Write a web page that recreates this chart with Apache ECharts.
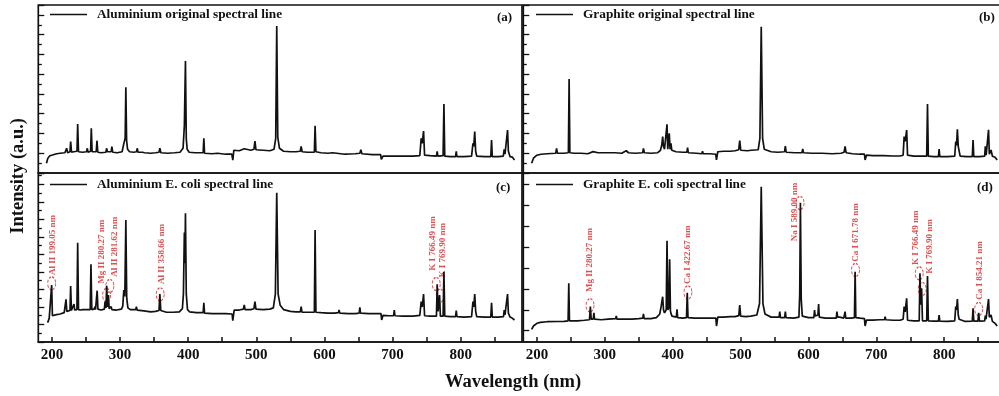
<!DOCTYPE html>
<html><head><meta charset="utf-8">
<script src="https://cdn.jsdelivr.net/npm/echarts@6/dist/echarts.min.js"></script>
<style>html,body{margin:0;padding:0;background:#fff;overflow:hidden}#c{width:1012px;height:396px}</style>
</head><body><div id="c"></div>
<script>
// ---------- data ----------
const wavelengthTicks = [200, 300, 400, 500, 600, 700, 800];
const wavelengthMinorTicks = [250, 350, 450, 550, 650, 750, 850];

const seriesNames = [
  'Aluminium original spectral line',
  'Graphite original spectral line',
  'Aluminium E. coli spectral line',
  'Graphite E. coli spectral line'
];
const panelTags = ['(a)', '(b)', '(c)', '(d)'];

// [wavelength nm, intensity a.u.]
const aluminiumOriginal = [[192,980],[194,1500],[197,1750],[202,1850],[207,1950],[212,2000],[219,2050],[221.6,2500],[223,2050],[226.5,2150],[227.5,3170],[228.8,2100],[232,2150],[236.8,2200],[237.8,4960],[239,2150],[245,2100],[250.8,2150],[251.9,2500],[253,2100],[256.8,2200],[257.8,4520],[259,2150],[265,2150],[266.1,3270],[267.3,2100],[272,2050],[279.2,2100],[280.2,2500],[281.5,2150],[287,2150],[288,2660],[289.2,2100],[296,2050],[303,2150],[305.6,3000],[307.5,3500],[308.5,8670],[309.6,3300],[311,2400],[314,2150],[320,2100],[324.2,2150],[325.2,2500],[326.4,2100],[333,2100],[334,2250],[336,2050],[345,2000],[352,2050],[357.2,2100],[358.4,2500],[360,2050],[370,2000],[380,2050],[388,2100],[392.5,2500],[394.4,4800],[395.2,5000],[396,11330],[397.2,3500],[398.5,2400],[400,2350],[401.5,2100],[410,2050],[422,2050],[423,3510],[424,2000],[435,1950],[443,2000],[444,2200],[445,1950],[455,1900],[464,1900],[465.5,1300],[466.5,1300],[467,2300],[475,2250],[482.3,2450],[484,2300],[492,2300],[496.5,2400],[498,3240],[499.5,2350],[510,2300],[520,2250],[526,2400],[528.5,3500],[530,14880],[531.5,3600],[534,2500],[540,2200],[550,2150],[558,2150],[564.5,2200],[565.8,2700],[567.3,2150],[575,2100],[585.2,2100],[586.3,4790],[587.5,2150],[595,2050],[605,2000],[612,2050],[613,2200],[614,2000],[630,1900],[645,1950],[652,2000],[653.5,2350],[655,1950],[670,1850],[682.5,1850],[683.5,1380],[685,1380],[686,1700],[700,1700],[715,1720],[730,1700],[740,1750],[742,3500],[743.5,3000],[745.5,4250],[747,1800],[755,1750],[764.5,1700],[765.5,2200],[766.5,1700],[774.2,1750],[775.4,6980],[776.6,1700],[785,1650],[792.5,1650],[793.5,2200],[794.5,1650],[805,1650],[816,1700],[818,3000],[819.2,2700],[820.6,4190],[822,2200],[823.5,1700],[835,1650],[844.2,1650],[845.3,3340],[846.4,1650],[855,1650],[862.5,1700],[863.9,2400],[865,1900],[867.7,1900],[868.8,4350],[870,2200],[871,2300],[872.5,1650],[876,1600],[879,1320]];

const graphiteOriginal = [[192.3,980],[195,1500],[200,1800],[206,1900],[215,1950],[227.8,2000],[229,2500],[230.2,2000],[240,2000],[246.4,2050],[247.5,9510],[248.6,2050],[255,2000],[265,2000],[275,1950],[282.8,2160],[290,2050],[300,2050],[315,2050],[325,2000],[331.6,2250],[335,2050],[345,2000],[355.8,2050],[357,2500],[358.3,2050],[368,2000],[378,2050],[382,2300],[384,2830],[385.3,3680],[386.5,2700],[388,2400],[390.6,2600],[391.7,4920],[392.8,2400],[394,2500],[395,4010],[396.2,2400],[397.5,3000],[398.7,2300],[405,2150],[415,2100],[421,2100],[422,2570],[423,2050],[435,2000],[443,1950],[444,2200],[445,1950],[455,1950],[463.5,1900],[464.5,1320],[465.5,1320],[466.5,2150],[475,2200],[485,2200],[492,2250],[497.3,2350],[498.8,3270],[500.3,2300],[510,2250],[516,2300],[517,2500],[518,2250],[526,2350],[528.5,3500],[530.5,14810],[532.5,3500],[535,2400],[545,2150],[555,2100],[564.8,2150],[566,2730],[567.2,2100],[580,2050],[590.5,2050],[591.6,2430],[592.8,2050],[605,2000],[620,2000],[635,1950],[648,2000],[652.5,2100],[654,2700],[655.5,2050],[665,1950],[675,1900],[682.5,1900],[683.5,1320],[684.5,1320],[685.5,1800],[695,1750],[710,1750],[725,1720],[735,1720],[739.5,1800],[741,3680],[742.5,3200],[744.7,4350],[746,1800],[755,1700],[765,1700],[774.2,1700],[775.4,6980],[776.6,1700],[785,1650],[791.5,1650],[792.5,2430],[793.5,1650],[805,1650],[815.5,1700],[817,3170],[818.2,2800],[819.4,4420],[820.7,2700],[822,2840],[823.5,1700],[833,1650],[841.4,1650],[842.5,3340],[843.6,1650],[852,1650],[859.6,1700],[860.6,2700],[861.8,1800],[864.2,1800],[865.3,4380],[866.5,1900],[869,2330],[871,1700],[875,1600],[878,1320]];

const aluminiumEcoli = [[193.7,2210],[196,2700],[198.5,2900],[199.6,6510],[200.7,3000],[205,3100],[212,3200],[218,3350],[219.7,3500],[220.7,4870],[221.8,3500],[224,3500],[226.5,3600],[227.5,6400],[228.6,3600],[231.4,3650],[232.4,4340],[233.4,3650],[236.7,3700],[237.8,11340],[239,3700],[242,3650],[245,3700],[246,3840],[247,3650],[251,3700],[252,3840],[253,3650],[256.2,3700],[257.3,8870],[258.5,3700],[262,3750],[263,4040],[264,3700],[265.3,3800],[266.4,5860],[267.5,3750],[272,3650],[277,3750],[278,4610],[279.3,3900],[280.4,6430],[281.6,4000],[282.9,5370],[284,3800],[286,3800],[287,4040],[288,3700],[295,3650],[302,3750],[304,4100],[305.5,5940],[307,5200],[308.5,13930],[309.8,5000],[311.5,3900],[315,3700],[323,3700],[324,4040],[325,3650],[335,3550],[345,3450],[352,3500],[357.2,3600],[358.4,5480],[359.8,3600],[368,3400],[378,3400],[387,3450],[391.5,3800],[393,5500],[394.4,12500],[395.2,9000],[396,14700],[397.2,5500],[399,3700],[402,3450],[412,3350],[422,3350],[423,4490],[424,3300],[435,3250],[445,3250],[455,3250],[464.5,3200],[465.5,2430],[466.5,2430],[467.5,3650],[475,3650],[481,3750],[482.3,4230],[483.5,3700],[492,3700],[496.5,3800],[498,4600],[499.5,3750],[510,3700],[520,3750],[525,3900],[528,5500],[530,17050],[532,5500],[535,4200],[540,3700],[550,3500],[558,3450],[564.6,3450],[565.8,4040],[567,3400],[575,3400],[585.2,3400],[586.3,12790],[587.5,3400],[595,3350],[605,3300],[615,3300],[620.5,3350],[621.5,3650],[622.5,3300],[635,3250],[645,3250],[651,3300],[652,3960],[653,3300],[665,3250],[676,3250],[683,3250],[684,2510],[685,2510],[686,3050],[695,3000],[701.5,3000],[702.5,3650],[703.5,3000],[715,2950],[730,2950],[740,3050],[742,4610],[743.5,4000],[745.5,5480],[747,3000],[755,2950],[764.4,2950],[765.5,6590],[766.8,3500],[769,5370],[770.2,2950],[774.2,2950],[775.4,8030],[776.6,2950],[785,2900],[792.5,2900],[793.5,3580],[794.5,2900],[805,2850],[816,2900],[818,4610],[819.2,4000],[820.6,5480],[822,3500],[823.5,2900],[835,2850],[844.2,2850],[845.3,4490],[846.4,2850],[855,2850],[862.8,2900],[863.9,3650],[865,3100],[867.7,3100],[868.8,5480],[870,3300],[872.5,2850],[876,2700],[879,2510]];

const graphiteEcoli = [[192.3,130],[195,450],[200,710],[205,800],[215,860],[230,880],[240,900],[246,950],[247,4530],[248,950],[260,950],[270,1000],[277.5,1050],[278.8,2300],[280,1100],[283,1100],[284,1720],[285,1100],[295,1050],[305,1100],[316,1150],[317,1410],[318,1100],[330,1100],[340,1100],[350,1150],[356,1200],[357,1600],[358,1150],[368,1150],[376,1250],[381,1600],[383,2300],[385.3,3250],[386.5,2000],[388,1700],[390.5,2000],[391.7,8610],[393,2000],[394.4,2200],[395.6,6830],[396.7,1900],[397.5,1660],[399,1400],[405.4,1300],[406.4,2050],[407.4,1250],[415,1200],[420.4,1250],[421.5,3640],[422.6,1250],[432,1200],[444,1200],[445,1190],[455,1200],[463.6,1200],[464.6,450],[465.6,450],[466.5,1300],[475,1300],[485,1340],[492,1350],[497.4,1450],[498.8,2460],[500.2,1400],[508,1350],[515,1400],[516,1500],[517,1400],[524,1500],[528,2600],[530.5,13780],[533,2600],[536,1600],[545,1300],[556.8,1300],[557.8,1820],[558.8,1250],[565,1250],[566,1820],[567,1250],[578,1200],[586,1300],[587.2,3500],[588.2,12250],[589.4,3000],[591,1400],[600,1250],[608,1250],[609,1980],[610,1400],[614,1500],[615,2560],[616,1300],[625,1200],[635,1200],[641,1200],[642,1820],[643,1300],[646,1300],[652,1200],[654,1820],[655,1200],[663,1200],[667.8,1250],[668.8,5650],[669.8,1250],[676,1200],[682.5,1150],[683.5,450],[684.5,450],[685.5,1020],[695,1020],[705,1050],[712,1050],[713,1340],[714,1050],[725,1000],[735,1000],[739.5,1100],[741,2300],[742.5,1800],[744.7,3100],[746,1000],[755,950],[763.2,950],[764.3,5490],[765.4,2500],[766.7,4060],[768,950],[774.2,950],[775.4,5230],[776.6,950],[785,920],[791.5,920],[792.5,1500],[793.5,920],[805,900],[815.5,950],[817,2300],[818.2,2000],[819.4,3030],[820.7,1500],[822,1100],[830,900],[841.4,920],[842.5,2140],[843.6,920],[849.7,920],[850.8,1720],[851.9,920],[859.6,950],[860.6,1440],[861.6,1100],[864.2,1100],[865.3,3030],[866.5,1300],[869,1500],[871,900],[875,700],[878,450]];

// annotated emission lines: label text and [wavelength, intensity] of the marked peak
const alEcoliLineNames = ['Al II 199.05 nm', 'Mg II 280.27 nm', 'Al II 281.62 nm', 'Al II 358.66 nm', 'K I 766.49 nm', 'K I 769.90 nm'];
const alEcoliLineMarks = [[199.6,6700],[280.2,5370],[285,6400],[358.9,5440],[764.1,6620],[770,5290]];
const grEcoliLineNames = ['Mg II 280.27 nm', 'Ca I 422.67 nm', 'Na I 589.00 nm', 'Ca I 671.78 nm', 'K I 766.49 nm', 'K I 769.90 nm', 'Ca I 854.21 nm'];
const grEcoliLineMarks = [[278.3,2430],[422.5,3670],[587.7,12220],[669.3,5810],[763.2,5490],[767.6,3990],[850.8,2080]];

// ---------- styling / layout ----------
const SERIF = "'Liberation Serif','Times New Roman',serif";
const INK = '#111111';
const RED = '#d02828';
const alLabelShift = [[1,0],[-5,-3],[5,-1],[1,-2],[-4,-5],[2,-10]];
const grLabelShift = [[0,-5],[0,0],[5,9],[0,0],[-4,0],[7,-7],[1,-1]];
const grLabelSide = [null, null, 'left', null, null, null, null];

function labelFor(shift, side) {
  const lab = {offset:[-shift[1], shift[0]]};
  if (side === 'left') { lab.position = 'left'; lab.align = 'center'; lab.verticalAlign = 'bottom'; }
  return lab;
}

const grids = [
  {left:38.3, top:5, width:483.7, height:168},
  {left:523.3, top:5, width:482, height:168},
  {left:38.3, top:173, width:483.7, height:169},
  {left:523.3, top:173, width:482, height:169}
].map(g => Object.assign(g, {show:true, borderColor:INK, borderWidth:1.7}));

const allWavelengthTicks = wavelengthTicks.concat(wavelengthMinorTicks).sort((a,b) => a - b);
function xTop(gi) {
  return {gridIndex:gi, type:'value', min:180, max:890,
    axisLine:{show:false, onZero:false}, splitLine:{show:false}, axisTick:{show:false}, axisLabel:{show:false}};
}
function xBottom(gi) {
  return {gridIndex:gi, type:'value', min:180, max:890,
    axisLine:{show:true, onZero:false, lineStyle:{color:INK, width:1.7}}, splitLine:{show:false},
    axisTick:{show:true, inside:true, length:5, customValues:allWavelengthTicks, lineStyle:{color:INK, width:1.5}},
    axisLabel:{show:true, customValues:wavelengthTicks, margin:6, color:INK, fontFamily:SERIF, fontWeight:'bold', fontSize:15}};
}
function yAxisStd(gi, max) {
  return {gridIndex:gi, type:'value', min:0, max:max, interval:2000,
    axisLine:{show:false, onZero:false}, splitLine:{show:false}, axisLabel:{show:false},
    axisTick:{show:true, inside:true, length:6, lineStyle:{color:INK, width:1.3}},
    minorTick:{show:true, splitNumber:2, length:3.5, lineStyle:{color:INK, width:1.3}}};
}
const dTicks = [0,2000,4000,6000,8000,10000,12000,14000];
const yAxisD = {gridIndex:3, type:'value', min:-1080, max:15090,
    axisLine:{show:false, onZero:false}, splitLine:{show:false}, axisLabel:{show:false},
    axisTick:{show:true, inside:true, length:6, customValues:dTicks, lineStyle:{color:INK, width:1.3}}};

function spectrum(name, data, xi, yi) {
  return {name, type:'line', data, xAxisIndex:xi, yAxisIndex:yi,
    showSymbol:false, symbol:'none', color:INK, lineStyle:{color:INK, width:1.7}};
}
function annotations(names, marks, shifts, sides, xi, yi) {
  return {type:'scatter', xAxisIndex:xi, yAxisIndex:yi, silent:true,
    symbol:'circle', symbolSize:[8,13],
    itemStyle:{color:'rgba(0,0,0,0)', borderColor:RED, borderWidth:1.2, borderType:[2.5,1.5]},
    label:{show:true, formatter:'{b}', rotate:90, position:'top', distance:1, align:'left', verticalAlign:'middle',
      color:RED, fontFamily:SERIF, fontSize:9, fontWeight:'bold'},
    data: names.map((n,i) => ({name:n, value:marks[i], label:labelFor(shifts[i], sides ? sides[i] : null)}))};
}
function legendAt(name, left, top) {
  return {data:[name], left, top, padding:0, itemWidth:37, itemHeight:1.6, icon:'rect', selectedMode:false,
    textStyle:{fontFamily:SERIF, fontWeight:'bold', fontSize:13.3, color:INK, padding:[3,0,0,5]}};
}
const tagPos = [[497,11],[979,11],[496,181],[977,181]];

const option = {
  animation:false,
  backgroundColor:'#fff',
  grid: grids,
  xAxis: [xTop(0), xTop(1), xBottom(2), xBottom(3)],
  yAxis: [yAxisStd(0,17000), yAxisStd(1,17000), yAxisStd(2,19300), yAxisD],
  legend: [legendAt(seriesNames[0],50,8), legendAt(seriesNames[1],536,8), legendAt(seriesNames[2],50,178), legendAt(seriesNames[3],536,178)],
  title: panelTags.map((t,i) => ({text:t, left:tagPos[i][0], top:tagPos[i][1], padding:0,
    textStyle:{fontFamily:SERIF, fontWeight:'bold', fontSize:13, color:INK}})),
  graphic: [
    {type:'text', left:9, top:118, rotation:Math.PI/2, style:{text:'Intensity (a.u.)', fontFamily:SERIF, fontWeight:'bold', fontSize:18.5, fill:INK}},
    {type:'text', left:445, top:373, style:{text:'Wavelength (nm)', fontFamily:SERIF, fontWeight:'bold', fontSize:18.5, fill:INK}}
  ],
  series: [
    spectrum(seriesNames[0], aluminiumOriginal, 0, 0),
    spectrum(seriesNames[1], graphiteOriginal, 1, 1),
    spectrum(seriesNames[2], aluminiumEcoli, 2, 2),
    spectrum(seriesNames[3], graphiteEcoli, 3, 3),
    annotations(alEcoliLineNames, alEcoliLineMarks, alLabelShift, null, 2, 2),
    annotations(grEcoliLineNames, grEcoliLineMarks, grLabelShift, grLabelSide, 3, 3)
  ]
};
const chart = echarts.init(document.getElementById('c'), null, {renderer:'canvas'});
chart.setOption(option);
</script></body></html>
